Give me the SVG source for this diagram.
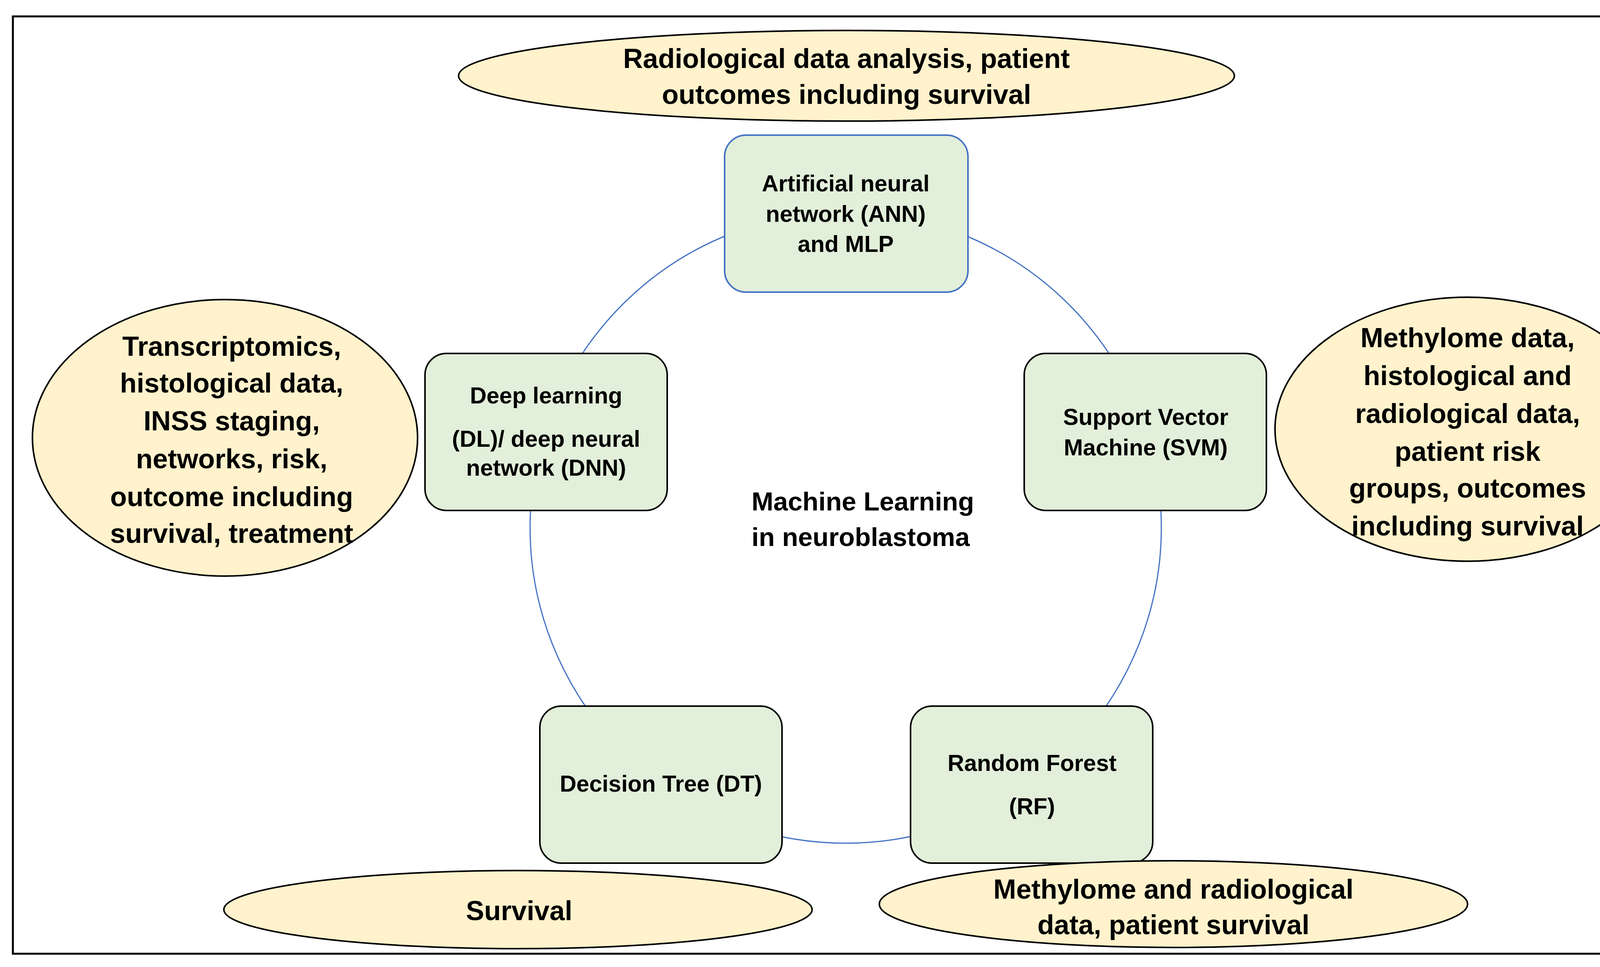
<svg xmlns="http://www.w3.org/2000/svg" width="4328" height="2476" viewBox="0 0 4328 2476">
<style>
.bx{fill:#E2EFDA;stroke:#000;stroke-width:4}
.el{fill:#FFF2CC;stroke:#000;stroke-width:4}
.t{font-family:"Liberation Sans",Arial,sans-serif;font-weight:bold;fill:#000;text-anchor:middle}
.b{font-size:59px}
.e{font-size:70px}
</style>
<rect x="0" y="0" width="4328" height="2476" fill="#fff"/>
<rect x="33" y="42" width="4262" height="2400" fill="none" stroke="#000" stroke-width="5"/>
<g id="connectors">
<circle cx="2165" cy="1351" r="808" fill="none" stroke="#4472C4" stroke-width="3"/>
</g>
<g id="ann"><rect class="bx" x="1855" y="346" width="623" height="402" rx="55" style="stroke:#4472C4"/>
<text class="t b" x="2165" y="490">Artificial neural</text><text class="t b" x="2165" y="568">network (ANN)</text><text class="t b" x="2165" y="645">and MLP</text></g>
<g id="dl"><rect class="bx" x="1088" y="905" width="620" height="402" rx="55"/>
<text class="t b" x="1398" y="1033">Deep learning</text><text class="t b" x="1398" y="1144">(DL)/ deep neural</text><text class="t b" x="1398" y="1218">network (DNN)</text></g>
<g id="svm"><rect class="bx" x="2622" y="905" width="620" height="402" rx="55"/>
<text class="t b" x="2933" y="1088">Support Vector</text><text class="t b" x="2933" y="1166">Machine (SVM)</text></g>
<g id="dt"><rect class="bx" x="1382" y="1808" width="620" height="402" rx="55"/>
<text class="t b" x="1692" y="2027">Decision Tree (DT)</text></g>
<g id="rf"><rect class="bx" x="2331" y="1808" width="620" height="402" rx="55"/>
<text class="t b" x="2642" y="1974">Random Forest</text><text class="t b" x="2642" y="2085">(RF)</text></g>
<g id="center"><text class="t" style="font-size:67px;text-anchor:start" x="1924" y="1307">Machine Learning</text><text class="t" style="font-size:67px;text-anchor:start" x="1924" y="1398">in neuroblastoma</text></g>
<g id="e-top"><ellipse class="el" cx="2167" cy="194" rx="993" ry="116"/>
<text class="t e" x="2167" y="174">Radiological data analysis, patient</text><text class="t e" x="2167" y="266">outcomes including survival</text></g>
<g id="e-left"><ellipse class="el" cx="576" cy="1121" rx="493" ry="354"/>
<text class="t e" x="593" y="911">Transcriptomics,</text><text class="t e" x="593" y="1005">histological data,</text><text class="t e" x="593" y="1102">INSS staging,</text><text class="t e" x="593" y="1199">networks, risk,</text><text class="t e" x="593" y="1296">outcome including</text><text class="t e" x="593" y="1390">survival, treatment</text></g>
<g id="e-right"><ellipse class="el" cx="3757" cy="1099" rx="493" ry="338"/>
<text class="t e" x="3757" y="889">Methylome data,</text><text class="t e" x="3757" y="986">histological and</text><text class="t e" x="3757" y="1083">radiological data,</text><text class="t e" x="3757" y="1180">patient risk</text><text class="t e" x="3757" y="1274">groups, outcomes</text><text class="t e" x="3757" y="1371">including survival</text></g>
<g id="e-bl"><ellipse class="el" cx="1326" cy="2329" rx="753" ry="100"/>
<text class="t e" x="1329" y="2356">Survival</text></g>
<g id="e-br"><ellipse class="el" cx="3004" cy="2315" rx="753" ry="111"/>
<text class="t e" x="3004" y="2301">Methylome and radiological</text><text class="t e" x="3004" y="2392">data, patient survival</text></g>
</svg>
